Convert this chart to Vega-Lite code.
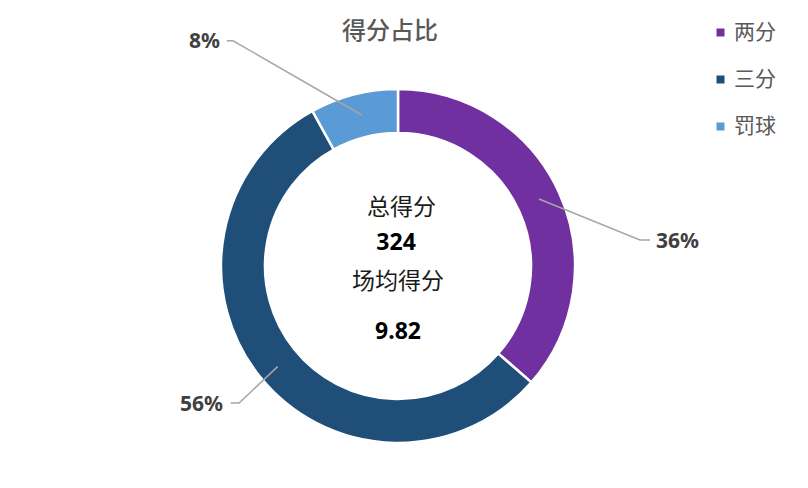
{
  "$schema": "https://vega.github.io/schema/vega-lite/v6.json",
  "autosize": "none",
  "width": 796,
  "height": 444,
  "padding": {"left": 0, "top": 44, "right": 12, "bottom": 0},
  "background": "white",
  "title": {
    "text": "得分占比",
    "font": "Noto Sans CJK SC",
    "fontSize": 24,
    "fontWeight": 500,
    "color": "#595959",
    "anchor": "middle",
    "baseline": "middle",
    "dx": -8,
    "dy": 34,
    "offset": 0
  },
  "datasets": {
    "scores": [
      {"type": "两分", "points": 118, "order": 1},
      {"type": "三分", "points": 180, "order": 2},
      {"type": "罚球", "points": 26, "order": 3}
    ],
    "leaders": [
      {"type": "罚球", "seq": 1, "x": -0.206, "y": 0.858},
      {"type": "罚球", "seq": 2, "x": -0.9375, "y": 1.28},
      {"type": "罚球", "seq": 3, "x": -0.973, "y": 1.28},
      {"type": "两分", "seq": 1, "x": 0.801, "y": 0.381},
      {"type": "两分", "seq": 2, "x": 1.375, "y": 0.148},
      {"type": "两分", "seq": 3, "x": 1.432, "y": 0.148},
      {"type": "三分", "seq": 1, "x": -0.684, "y": -0.572},
      {"type": "三分", "seq": 2, "x": -0.903, "y": -0.778},
      {"type": "三分", "seq": 3, "x": -0.951, "y": -0.778}
    ],
    "labels": [
      {"text": "8%", "x": -1.012, "y": 1.273, "side": "right"},
      {"text": "36%", "x": 1.466, "y": 0.136, "side": "left"},
      {"text": "56%", "x": -0.995, "y": -0.79, "side": "right"}
    ],
    "center": [
      {"text": "总得分", "x": 0.02, "y": 0.33, "bold": "no"},
      {"text": "324", "x": -0.011, "y": 0.131, "bold": "yes"},
      {"text": "场均得分", "x": 0.0, "y": -0.091, "bold": "no"},
      {"text": "9.82", "x": 0.0, "y": -0.375, "bold": "yes"}
    ]
  },
  "layer": [
    {
      "data": {"name": "scores"},
      "mark": {"type": "arc", "outerRadius": 177, "innerRadius": 133, "stroke": "white", "strokeWidth": 2.5},
      "encoding": {
        "theta": {"field": "points", "type": "quantitative", "stack": true},
        "order": {"field": "order", "type": "quantitative"},
        "color": {
          "field": "type",
          "type": "nominal",
          "scale": {"domain": ["两分", "三分", "罚球"], "range": ["#7030A0", "#1F4E79", "#5B9BD5"]},
          "legend": {
            "title": null,
            "orient": "none",
            "legendX": 710,
            "legendY": -22,
            "padding": 0,
            "symbolType": "square",
            "symbolSize": 64,
            "symbolStrokeWidth": 0,
            "labelFont": "Noto Sans CJK SC",
            "labelFontSize": 21,
            "labelColor": "#595959",
            "labelOffset": 3,
            "rowPadding": 25
          }
        }
      }
    },
    {
      "data": {"name": "leaders"},
      "mark": {"type": "line", "color": "#A6A6A6", "strokeWidth": 1.5},
      "encoding": {
        "x": {"field": "x", "type": "quantitative", "axis": null, "scale": {"domain": [-2.2614, 2.2614], "nice": false, "zero": false}},
        "y": {"field": "y", "type": "quantitative", "axis": null, "scale": {"domain": [-1.2614, 1.2614], "nice": false, "zero": false}},
        "detail": {"field": "type"},
        "order": {"field": "seq", "type": "quantitative"}
      }
    },
    {
      "data": {"name": "labels"},
      "transform": [{"filter": "datum.side === 'right'"}],
      "mark": {"type": "text", "align": "right", "baseline": "middle", "font": "Noto Sans", "fontSize": 21, "fontWeight": "bold", "color": "#404040"},
      "encoding": {
        "x": {"field": "x", "type": "quantitative"},
        "y": {"field": "y", "type": "quantitative"},
        "text": {"field": "text"}
      }
    },
    {
      "data": {"name": "labels"},
      "transform": [{"filter": "datum.side === 'left'"}],
      "mark": {"type": "text", "align": "left", "baseline": "middle", "font": "Noto Sans", "fontSize": 21, "fontWeight": "bold", "color": "#404040"},
      "encoding": {
        "x": {"field": "x", "type": "quantitative"},
        "y": {"field": "y", "type": "quantitative"},
        "text": {"field": "text"}
      }
    },
    {
      "data": {"name": "center"},
      "transform": [{"filter": "datum.bold === 'no'"}],
      "mark": {"type": "text", "align": "center", "baseline": "middle", "font": "Noto Sans CJK SC", "fontSize": 23, "color": "#1a1a1a"},
      "encoding": {
        "x": {"field": "x", "type": "quantitative"},
        "y": {"field": "y", "type": "quantitative"},
        "text": {"field": "text"}
      }
    },
    {
      "data": {"name": "center"},
      "transform": [{"filter": "datum.bold === 'yes'"}],
      "mark": {"type": "text", "align": "center", "baseline": "middle", "font": "Noto Sans", "fontSize": 23, "fontWeight": "bold", "color": "#000000"},
      "encoding": {
        "x": {"field": "x", "type": "quantitative"},
        "y": {"field": "y", "type": "quantitative"},
        "text": {"field": "text"}
      }
    }
  ],
  "config": {"view": {"stroke": null}}
}
